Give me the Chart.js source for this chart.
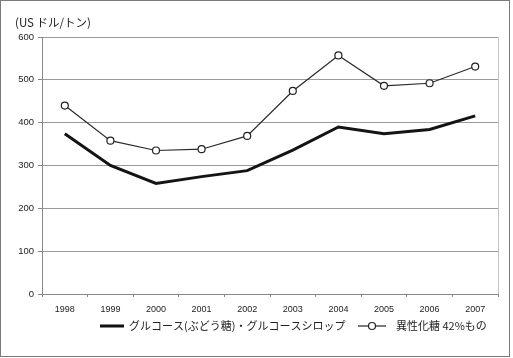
<!doctype html>
<html>
<head>
    <title>Glucose price chart</title>
    <script src="https://cdn.jsdelivr.net/npm/chart.js@4.4.0/dist/chart.umd.min.js"></script>
    <style>
    body { margin: 0; background: #fff; }
    #wrap { position: relative; width: 513px; height: 358px; }
    #frame {
        position: absolute; left: 0; top: 0; width: 508px; height: 355px;
        border: 1px solid #7a7a7a; pointer-events: none;
    }
    </style>
</head>
<body>
<div id="wrap">
    <canvas id="mycanvas" width="513" height="358"></canvas>
    <div id="frame"></div>
</div>

<script>
// data
var years = ["1998", "1999", "2000", "2001", "2002", "2003", "2004", "2005", "2006", "2007"];
var glucose = [374, 300, 258, 274, 288, 336, 390, 374, 384, 416];
var hfcs42 = [440, 358, 335, 338, 369, 474, 557, 486, 492, 531];
var yTicks = [0, 100, 200, 300, 400, 500, 600];

var unitLabel = "(US ドル/トン)";
var seriesNames = ["グルコース(ぶどう糖)・グルコースシロップ", "異性化糖 42%もの"];

var jpFont = "'Noto Sans CJK JP', 'Noto Sans', sans-serif";
var numFont = "'Liberation Sans', Arial, sans-serif";

// unit label, right border of plot, and the legend row
var extras = {
    id: 'extras',
    afterDraw: function(chart) {
        var ctx = chart.ctx;
        var a = chart.chartArea;
        ctx.save();

        ctx.strokeStyle = "#c4c4c4";
        ctx.lineWidth = 1;
        ctx.beginPath();
        ctx.moveTo(Math.round(a.right) + 0.5, a.top);
        ctx.lineTo(Math.round(a.right) + 0.5, a.bottom);
        ctx.stroke();

        ctx.fillStyle = "#222";
        ctx.font = "11.5px " + jpFont;
        ctx.textBaseline = "middle";
        ctx.textAlign = "left";
        ctx.fillText(unitLabel, 15, 23);

        var y = 326;
        // series 1 sample
        ctx.strokeStyle = "#111";
        ctx.lineWidth = 3;
        ctx.beginPath();
        ctx.moveTo(100, y);
        ctx.lineTo(124, y);
        ctx.stroke();
        ctx.font = "11px " + jpFont;
        ctx.fillText(chart.data.datasets[0].label, 129, y);

        // series 2 sample
        ctx.strokeStyle = "#222";
        ctx.lineWidth = 1.2;
        ctx.beginPath();
        ctx.moveTo(358, y);
        ctx.lineTo(386, y);
        ctx.stroke();
        ctx.fillStyle = "#fff";
        ctx.beginPath();
        ctx.arc(372, y, 3.5, 0, Math.PI * 2);
        ctx.fill();
        ctx.stroke();
        ctx.fillStyle = "#222";
        ctx.fillText(chart.data.datasets[1].label, 396, y);

        ctx.restore();
    }
};

var chart = new Chart(document.getElementById("mycanvas"), {
    type: 'line',
    data: {
        labels: years,
        datasets: [
            {
                label: seriesNames[0],
                data: glucose,
                borderColor: "#141414",
                borderWidth: 3,
                pointRadius: 0,
                tension: 0
            },
            {
                label: seriesNames[1],
                data: hfcs42,
                borderColor: "#2a2a2a",
                borderWidth: 1.2,
                pointRadius: 3.5,
                pointBackgroundColor: "#fff",
                pointBorderColor: "#222",
                pointBorderWidth: 1.2,
                tension: 0
            }
        ]
    },
    options: {
        responsive: false,
        animation: false,
        layout: { padding: { top: 37, right: 15, left: 0, bottom: 40 } },
        plugins: {
            legend: { display: false },
            tooltip: { enabled: false }
        },
        scales: {
            x: {
                offset: true,
                grid: {
                    offset: true,
                    drawOnChartArea: false,
                    drawTicks: true,
                    tickLength: 3,
                    color: "#888"
                },
                border: { color: "#888" },
                ticks: {
                    color: "#222",
                    font: { family: numFont, size: 9 },
                    padding: 7,
                    maxRotation: 0,
                    autoSkip: false
                },
                afterFit: function(scale) { scale.height = 24; }
            },
            y: {
                min: 0,
                max: 600,
                afterBuildTicks: function(scale) {
                    scale.ticks = yTicks.map(function(v) { return { value: v }; });
                },
                grid: {
                    color: "#9a9a9a",
                    tickLength: 4,
                    tickColor: "#888"
                },
                border: { color: "#888" },
                ticks: {
                    color: "#222",
                    font: { family: numFont, size: 9.5 },
                    padding: 4
                },
                afterFit: function(scale) { scale.width = 42; }
            }
        }
    },
    plugins: [extras]
});
</script>
</body>
</html>
